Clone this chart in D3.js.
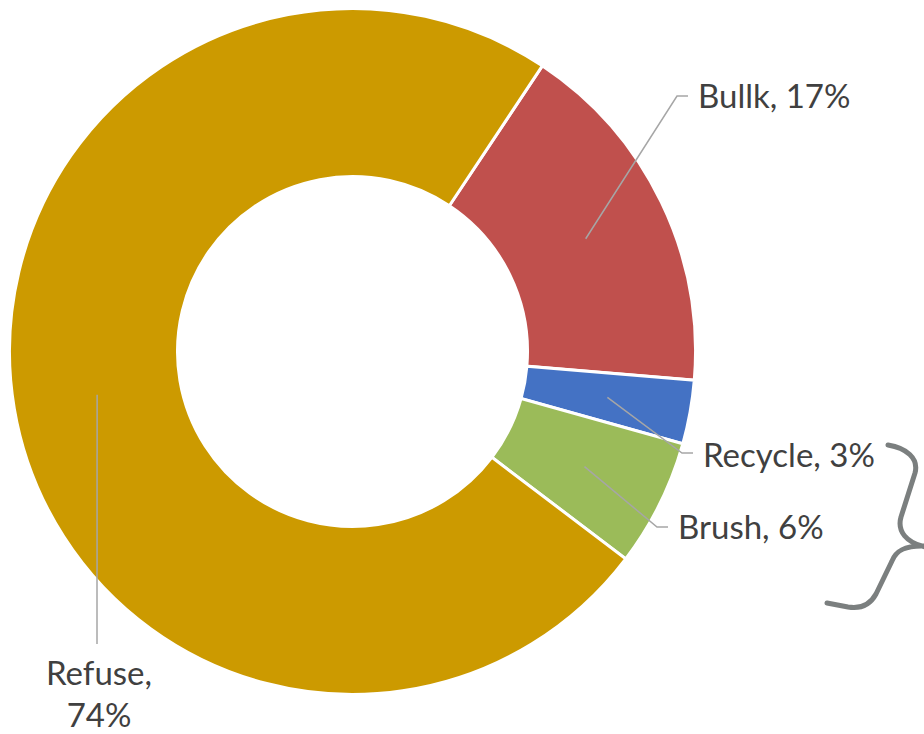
<!DOCTYPE html>
<html>
<head>
<meta charset="utf-8">
<script src="https://cdn.jsdelivr.net/npm/d3@7"></script>
<style>
  html, body { margin: 0; padding: 0; background: #ffffff; }
  svg { display: block; }
  text { font-family: Lato, "Open Sans", sans-serif; fill: #404040; }
</style>
</head>
<body>
<svg id="chart" width="924" height="734"></svg>
<script>
// Waste stream shares (percent)
const categories = ["Bullk", "Recycle", "Brush", "Refuse"];
const shares = [17, 3, 6, 74];
const colors = ["#C0504D", "#4472C4", "#9BBB59", "#CC9A00"];

// Label placement: elbow point of each leader and text anchor
const labelLayout = {
  "Bullk":   { elbow: [677, 96],  end: [688, 96],  text: [698, 108], anchor: "start", lines: 1 },
  "Recycle": { elbow: [682, 453], end: [693, 453], text: [703, 467], anchor: "start", lines: 1 },
  "Brush":   { elbow: [657, 527], end: [668, 527], text: [678, 539], anchor: "start", lines: 1 },
  "Refuse":  { elbow: null,       end: [97, 644],  text: [99, 685],  anchor: "middle", lines: 2 }
};

const width = 924, height = 734;
const cx = 352.5, cy = 351.5;
const outerR = 343, innerR = 175;
const startDeg = 33.6;

const svg = d3.select("#chart");
const g = svg.append("g").attr("transform", `translate(${cx},${cy})`);

const data = categories.map((c, i) => ({ name: c, value: shares[i], color: colors[i] }));

const pie = d3.pie()
  .value(d => d.value)
  .sort(null)
  .startAngle(startDeg * Math.PI / 180)
  .endAngle(startDeg * Math.PI / 180 + 2 * Math.PI);

const arc = d3.arc().innerRadius(innerR).outerRadius(outerR);
const arcs = pie(data);

g.selectAll("path.slice")
  .data(arcs)
  .join("path")
  .attr("class", "slice")
  .attr("d", arc)
  .attr("fill", d => d.data.color)
  .attr("stroke", "#ffffff")
  .attr("stroke-width", 3)
  .attr("stroke-linejoin", "miter");

// Leader lines from slice centroids to labels
const leaders = svg.append("g");
arcs.forEach(d => {
  const L = labelLayout[d.data.name];
  const c = arc.centroid(d);
  const pts = [[cx + c[0], cy + c[1]]];
  if (L.elbow) pts.push(L.elbow);
  pts.push(L.end);
  leaders.append("path")
    .attr("d", d3.line()(pts))
    .attr("fill", "none")
    .attr("stroke", "#A6A6A6")
    .attr("stroke-width", 1.5);
});

// Data labels
const labels = svg.append("g");
arcs.forEach(d => {
  const L = labelLayout[d.data.name];
  const t = labels.append("text")
    .attr("x", L.text[0])
    .attr("y", L.text[1])
    .attr("text-anchor", L.anchor)
    .attr("font-size", 33);
  if (L.lines === 1) {
    t.text(`${d.data.name}, ${d.data.value}%`);
  } else {
    t.append("tspan").attr("x", L.text[0]).attr("y", L.text[1]).text(`${d.data.name},`);
    t.append("tspan").attr("x", L.text[0]).attr("y", L.text[1] + 42).text(`${d.data.value}%`);
  }
});

// Curly brace grouping the two small slices
svg.append("path")
  .attr("d", "M888,445 C906,448 919,458 915,473 L901,517 C897,531 906,543 926,547 " +
             "M926,546 C906,545 896,550 892,561 L876,594 C870,605 860,609 848,607 L827,603")
  .attr("fill", "none")
  .attr("stroke", "#7B7F7F")
  .attr("stroke-width", 5)
  .attr("stroke-linecap", "round")
  .attr("stroke-linejoin", "round");
</script>
</body>
</html>
